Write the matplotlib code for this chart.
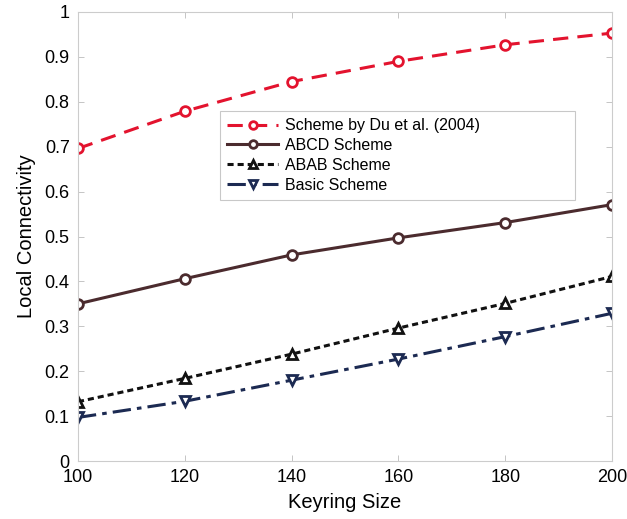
import matplotlib
matplotlib.use("Agg")
import matplotlib.pyplot as plt

plt.rcParams['font.family'] = ['Liberation Sans', 'DejaVu Sans']

keyring = [100, 120, 140, 160, 180, 200]
du = [0.696, 0.779, 0.845, 0.890, 0.927, 0.953]
abcd = [0.350, 0.406, 0.459, 0.497, 0.531, 0.571]
abab = [0.132, 0.184, 0.238, 0.296, 0.351, 0.411]
basic = [0.097, 0.133, 0.180, 0.227, 0.277, 0.329]

xticks = [100, 120, 140, 160, 180, 200]
yticks = [0, 0.1, 0.2, 0.3, 0.4, 0.5, 0.6, 0.7, 0.8, 0.9, 1]
yticklabels = ['0', '0.1', '0.2', '0.3', '0.4', '0.5', '0.6', '0.7', '0.8', '0.9', '1']

fig = plt.figure(figsize=(6.27, 5.19), dpi=100)
ax = fig.add_axes([78/627, 58/519, 534/627, 449/519])

ax.plot(keyring, du, color='#e3132e', ls=(0, (5, 3)), lw=2.2, marker='o', ms=7,
        mfc='white', mec='#e3132e', mew=2, label='Scheme by Du et al. (2004)')
ax.plot(keyring, abcd, color='#4b2b2e', ls='-', lw=2.2, marker='o', ms=7,
        mfc='white', mec='#4b2b2e', mew=2, label='ABCD Scheme')
ax.plot(keyring, abab, color='#111111', ls=(0, (2, 1.3)), lw=2.2, marker='^', ms=7.5,
        mfc='white', mec='#111111', mew=2, label='ABAB Scheme')
ax.plot(keyring, basic, color='#1c2a52', ls=(0, (6, 2, 1.5, 2)), lw=2.2, marker='v', ms=7.5,
        mfc='white', mec='#1c2a52', mew=2, label='Basic Scheme')

ax.set_xlim(100, 200)
ax.set_ylim(0, 1)
ax.set_xticks(xticks)
ax.set_yticks(yticks)
ax.set_yticklabels(yticklabels)
ax.tick_params(direction='in', length=4, width=0.6, color='#bbbbbb',
               labelsize=13, top=True, right=True, pad=6)
for s in ax.spines.values():
    s.set_color('#cccccc')
    s.set_linewidth(0.8)

ax.set_xlabel('Keyring Size', fontsize=14.5, labelpad=5)
ax.set_ylabel('Local Connectivity', fontsize=14.5, labelpad=6)

# legend box spans pixels x 220..575, y 111..201 of the figure
x0 = (220 - 78) / 534
w = (575 - 220) / 534
y_top = (461 - 111) / 449
h = (201 - 111) / 449
leg = ax.legend(loc='upper left', bbox_to_anchor=(x0, y_top - h, w, h), mode='expand',
                fontsize=11.5, frameon=True, fancybox=False, handlelength=3.2,
                borderpad=0.45, labelspacing=0.3, handletextpad=0.4, borderaxespad=0)
leg.get_frame().set_edgecolor('#bbbbbb')
leg.get_frame().set_linewidth(0.8)
for h_ in leg.legend_handles:
    h_.set_markersize(5.5)

fig.savefig('out.png', dpi=100)
